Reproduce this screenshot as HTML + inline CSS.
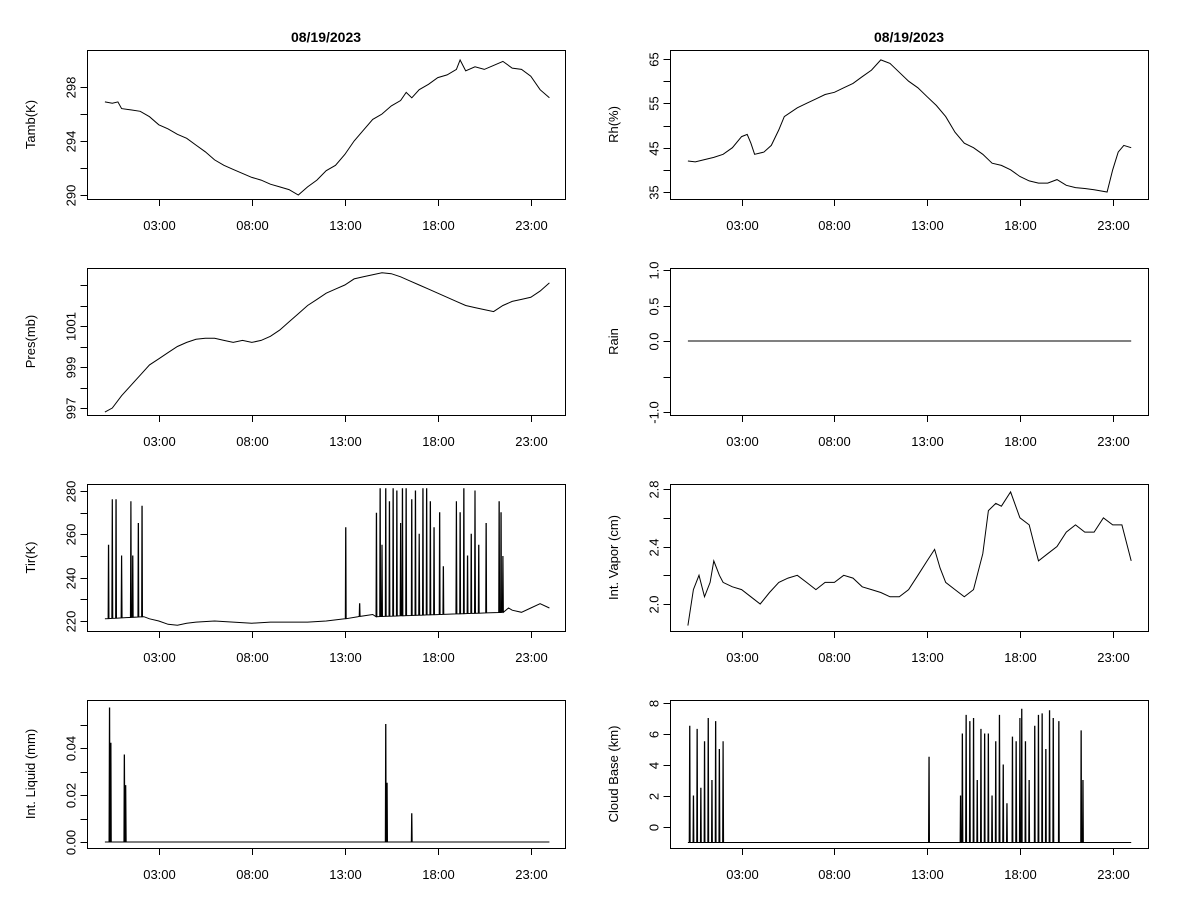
<!DOCTYPE html>
<html><head><meta charset="utf-8"><style>
html,body{margin:0;padding:0;background:#fff;}
svg{display:block;font-family:"Liberation Sans",Arial,sans-serif;}
</style></head><body>
<svg id="c" width="1200" height="900" viewBox="0 0 1200 900"></svg>
<script>
const xTickHours=[3,8,13,18,23];
const xTickLabels=["03:00","08:00","13:00","18:00","23:00"];
const tambData=[[0.1,296.9],[0.5,296.8],[0.8,296.9],[1,296.4],[1.5,296.3],[2,296.2],[2.5,295.8],[3,295.2],[3.5,294.9],[4,294.5],[4.5,294.2],[5,293.7],[5.5,293.2],[6,292.6],[6.5,292.2],[7,291.9],[7.5,291.6],[8,291.3],[8.5,291.1],[9,290.8],[9.5,290.6],[10,290.4],[10.5,290.0],[11,290.6],[11.5,291.1],[12,291.8],[12.5,292.2],[13,293.0],[13.5,294.0],[14,294.8],[14.5,295.6],[15,296.0],[15.5,296.6],[16,297.0],[16.3,297.6],[16.6,297.2],[17,297.8],[17.5,298.2],[18,298.7],[18.5,298.9],[19,299.3],[19.2,300.0],[19.5,299.2],[20,299.5],[20.5,299.3],[21,299.6],[21.5,299.9],[22,299.4],[22.5,299.3],[23,298.8],[23.5,297.8],[24,297.2]];
const rhData=[[0.1,42],[0.5,41.8],[1,42.3],[1.5,42.8],[2,43.5],[2.5,45],[3,47.5],[3.3,48],[3.5,46],[3.7,43.5],[4.2,44],[4.6,45.5],[5,49],[5.3,52],[6,54],[6.5,55],[7,56],[7.5,57],[8,57.5],[8.5,58.5],[9,59.5],[9.5,61],[10,62.5],[10.5,64.8],[11,64],[11.5,62],[12,60],[12.5,58.5],[13,56.5],[13.5,54.5],[14,52],[14.5,48.5],[15,46],[15.5,45],[16,43.5],[16.5,41.5],[17,41],[17.5,40],[18,38.5],[18.5,37.5],[19,37],[19.5,37],[20,37.8],[20.5,36.5],[21,36],[21.5,35.8],[22,35.5],[22.7,35],[23,40],[23.3,44],[23.6,45.5],[24,45]];
const presData=[[0.1,996.8],[0.5,997],[1,997.6],[1.5,998.1],[2,998.6],[2.5,999.1],[3,999.4],[3.5,999.7],[4,1000.0],[4.5,1000.2],[5,1000.35],[5.5,1000.4],[6,1000.4],[6.5,1000.3],[7,1000.2],[7.5,1000.3],[8,1000.2],[8.5,1000.3],[9,1000.5],[9.5,1000.8],[10,1001.2],[10.5,1001.6],[11,1002.0],[11.5,1002.3],[12,1002.6],[12.5,1002.8],[13,1003.0],[13.5,1003.3],[14,1003.4],[14.5,1003.5],[15,1003.6],[15.5,1003.55],[16,1003.4],[16.5,1003.2],[17,1003.0],[17.5,1002.8],[18,1002.6],[18.5,1002.4],[19,1002.2],[19.5,1002.0],[20,1001.9],[20.5,1001.8],[21,1001.7],[21.5,1002.0],[22,1002.2],[22.5,1002.3],[23,1002.4],[23.5,1002.7],[24,1003.1]];
const rainData=[[0.1,0],[24,0]];
const tirBase=[[0.1,221],[2.2,222],[2.5,221],[3,220],[3.5,218.5],[4,218],[4.5,219],[5,219.5],[6,220],[7,219.5],[8,219],[9,219.5],[10,219.5],[11,219.5],[12,220],[13,221],[13.7,222],[14.5,223],[14.7,222],[21.5,224],[21.8,226],[22,225],[22.5,224],[23,226],[23.5,228],[24,226]];
const tirSpikes=[[0.3,255],[0.5,276],[0.7,276],[1.0,250],[1.5,275],[1.6,250],[1.9,265],[2.1,273],[13.05,263],[13.8,228],[14.7,270],[14.9,281],[15.0,255],[15.2,281],[15.4,275],[15.6,281],[15.8,280],[16.0,265],[16.1,281],[16.3,281],[16.6,276],[16.8,280],[17.0,260],[17.2,281],[17.4,281],[17.6,275],[17.8,263],[18.1,270],[18.3,245],[19.0,275],[19.2,270],[19.4,281],[19.6,250],[19.8,260],[20.0,280],[20.2,255],[20.6,265],[21.3,275],[21.4,270],[21.5,250]];
const vaporData=[[0.1,1.85],[0.4,2.1],[0.7,2.2],[1,2.05],[1.3,2.15],[1.5,2.3],[1.8,2.2],[2,2.15],[2.5,2.12],[3,2.1],[3.5,2.05],[4,2.0],[4.5,2.08],[5,2.15],[5.5,2.18],[6,2.2],[6.5,2.15],[7,2.1],[7.5,2.15],[8,2.15],[8.5,2.2],[9,2.18],[9.5,2.12],[10,2.1],[10.5,2.08],[11,2.05],[11.5,2.05],[12,2.1],[12.5,2.2],[13,2.3],[13.4,2.38],[13.7,2.25],[14,2.15],[14.5,2.1],[15,2.05],[15.5,2.1],[16,2.35],[16.3,2.65],[16.7,2.7],[17,2.68],[17.5,2.78],[18,2.6],[18.5,2.55],[18.8,2.4],[19,2.3],[19.5,2.35],[20,2.4],[20.5,2.5],[21,2.55],[21.5,2.5],[22,2.5],[22.5,2.6],[23,2.55],[23.5,2.55],[24,2.3]];
const liquidBase=[[0.1,0],[24,0]];
const liquidSpikes=[[0.35,0.057],[0.42,0.042],[1.15,0.037],[1.22,0.024],[15.2,0.05],[15.27,0.025],[16.6,0.012]];
const cloudBase=[[0.1,-1],[24,-1]];
const cloudSpikes=[[0.2,6.5],[0.4,2],[0.6,6.3],[0.8,2.5],[1.0,5.5],[1.2,7],[1.4,3],[1.6,6.8],[1.8,5],[2.0,5.5],[13.1,4.5],[14.8,2],[14.9,6],[15.1,7.2],[15.3,6.8],[15.5,7],[15.7,3],[15.9,6.3],[16.1,6],[16.3,6],[16.5,2],[16.7,5.5],[16.9,7.2],[17.1,4],[17.3,1.5],[17.6,5.8],[17.8,5.5],[18.0,7],[18.1,7.6],[18.3,5.5],[18.5,3],[18.8,6.5],[19.0,7.2],[19.2,7.3],[19.4,5],[19.6,7.5],[19.8,7],[20.1,6.8],[21.3,6.2],[21.4,3]];

const svg=document.getElementById('c');
const NS='http://www.w3.org/2000/svg';
function mk(tag,attrs,parent){const e=document.createElementNS(NS,tag);for(const k in attrs)e.setAttribute(k,attrs[k]);(parent||svg).appendChild(e);return e;}

const panels=[
 {name:'tamb',col:0,row:0,title:'Tamb(K)',cal:[290,195,298,87],ticks:[290,292,294,296,298],labels:{290:'290',294:'294',298:'298'},base:tambData},
 {name:'rh',col:1,row:0,title:'Rh(%)',cal:[35,192,65,59],ticks:[35,40,45,50,55,60,65],labels:{35:'35',45:'45',55:'55',65:'65'},base:rhData},
 {name:'pres',col:0,row:1,title:'Pres(mb)',cal:[997,408,1001,326],ticks:[997,998,999,1000,1001,1002,1003],labels:{997:'997',999:'999',1001:'1001'},base:presData},
 {name:'rain',col:1,row:1,title:'Rain',cal:[-1,412,1,270],ticks:[-1,-0.5,0,0.5,1],labels:{'-1':'-1.0','0':'0.0','0.5':'0.5','1':'1.0'},base:rainData},
 {name:'tir',col:0,row:2,title:'Tir(K)',cal:[220,621,280,491],ticks:[220,230,240,250,260,270,280],labels:{220:'220',240:'240',260:'260',280:'280'},base:tirBase,spikes:tirSpikes},
 {name:'vapor',col:1,row:2,title:'Int. Vapor (cm)',cal:[2.0,604,2.8,489],ticks:[2.0,2.2,2.4,2.6,2.8],labels:{'2':'2.0','2.4':'2.4','2.8':'2.8'},base:vaporData},
 {name:'liquid',col:0,row:3,title:'Int. Liquid (mm)',cal:[0,842,0.04,748],ticks:[0,0.01,0.02,0.03,0.04,0.05],labels:{'0':'0.00','0.02':'0.02','0.04':'0.04'},base:liquidBase,spikes:liquidSpikes},
 {name:'cloud',col:1,row:3,title:'Cloud Base (km)',cal:[0,827,8,703],ticks:[0,2,4,6,8],labels:{'0':'0','2':'2','4':'4','6':'6','8':'8'},base:cloudBase,spikes:cloudSpikes}
];
const cols=[{x0:87,x1:565,t0:103,ph:18.6},{x0:670,x1:1148,t0:686,ph:18.55}];
const rows=[[50,199],[268,415],[484,631],[700,848]];

['title-left','title-right'].forEach((n,i)=>{
 const c=cols[i];
 const t=mk('text',{x:(c.x0+c.x1)/2,y:42,'text-anchor':'middle','font-size':'14','font-weight':'bold'});
 t.textContent='08/19/2023';
 
 
});

panels.forEach(p=>{
 const c=cols[p.col],[y0,y1]=rows[p.row];
 const g=mk('g',{});
 
 
 const xs=h=>c.t0+c.ph*h;
 const ys=v=>p.cal[1]+(v-p.cal[0])*(p.cal[3]-p.cal[1])/(p.cal[2]-p.cal[0]);
 const cid='clip-'+p.name;
 const cp=mk('clipPath',{id:cid},g);mk('rect',{x:c.x0,y:y0,width:c.x1-c.x0,height:y1-y0},cp);
 let pts=p.base.map(d=>[d[0],d[1]]);
 if(p.spikes){
  const orig=pts.slice();
  const bAt=h=>{for(let i=0;i<orig.length-1;i++){if(h>=orig[i][0]&&h<=orig[i+1][0]){const a=orig[i],b=orig[i+1];return a[1]+(b[1]-a[1])*(h-a[0])/(b[0]-a[0]);}}return orig[orig.length-1][1];};
  p.spikes.forEach(s=>{const b=bAt(s[0]);pts.push([s[0]-0.025,b],[s[0]-0.008,s[1]],[s[0]+0.008,s[1]],[s[0]+0.025,b]);});
  pts.sort((a,b)=>a[0]-b[0]);
 }
 const d=pts.map((q,i)=>(i?'L':'M')+xs(q[0]).toFixed(1)+','+ys(q[1]).toFixed(1)).join('');
 const line=mk('path',{d:d,fill:'none',stroke:'#000','stroke-width':'1','clip-path':'url(#'+cid+')'},g);
 
 
 const box=mk('rect',{x:c.x0+0.5,y:y0+0.5,width:c.x1-c.x0,height:y1-y0,fill:'none',stroke:'#000','stroke-width':'1'},g);
 
 
 const xa=mk('g',{},g);
 
 
 xTickHours.forEach((h,i)=>{
  const x=Math.round(xs(h))+0.5;
  mk('line',{x1:x,x2:x,y1:y1+0.5,y2:y1+7,stroke:'#000'},xa);
  const t=mk('text',{x:x,y:y1+31,'text-anchor':'middle','font-size':'13'},xa);t.textContent=xTickLabels[i];
 });
 const ya=mk('g',{},g);
 
 
 const X=c.x0+0.5;
 const ty=p.ticks.map(ys);
 mk('line',{x1:X,x2:X,y1:Math.min(...ty),y2:Math.max(...ty),stroke:'#000'},ya);
 p.ticks.forEach(v=>{
  const y=Math.round(ys(v))+0.5;
  mk('line',{x1:X-7,x2:X,y1:y,y2:y,stroke:'#000'},ya);
  const lab=p.labels[String(v)];
  if(lab){const t=mk('text',{x:X-12,y:y,'text-anchor':'middle','font-size':'13',transform:'rotate(-90 '+(X-12)+' '+y+')'},ya);t.textContent=lab;}
 });
 const ttl=mk('text',{x:c.x0-52,y:(y0+y1)/2,'text-anchor':'middle','font-size':'13',transform:'rotate(-90 '+(c.x0-52)+' '+((y0+y1)/2)+')'},g);
 ttl.textContent=p.title;
 
 
});
</script>
</body></html>
